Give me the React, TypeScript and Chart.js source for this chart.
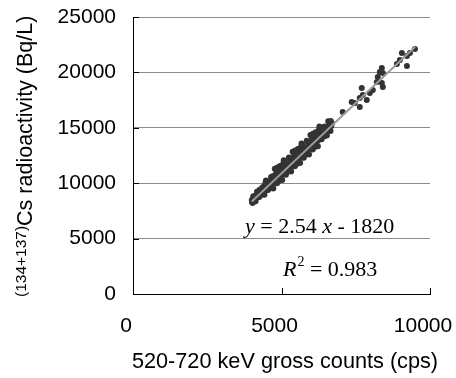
import React, { useEffect, useRef } from "react";
import { Chart, registerables } from "chart.js";

Chart.register(...registerables);

// Scatter data: 520-720 keV gross counts (cps) vs (134+137)Cs radioactivity (Bq/L)
// dense cluster (first pass)
const clusterAX: number[] = [
  4000, 4025, 4050, 4075, 4100, 4125, 4150, 4175, 4200, 4225, 4250, 4275, 4300, 4325, 4350, 4375,
  4400, 4425, 4450, 4475, 4500, 4525, 4550, 4575, 4600, 4625, 4650, 4675, 4700, 4725, 4750, 4775,
  4800, 4825, 4850, 4875, 4900, 4925, 4950, 4975, 5000, 5025, 5050, 5075, 5100, 5125, 5150, 5175,
  5200, 5225, 5250, 5275, 5300, 5325, 5350, 5375, 5400, 5425, 5450, 5475, 5500, 5525, 5550, 5575,
  5600, 5625, 5650, 5675, 5700, 5725, 5750, 5775, 5800, 5825, 5850, 5875, 5900, 5925, 5950, 5975,
  6000, 6025, 6050, 6075, 6100, 6125, 6150, 6175, 6200, 6225, 6250, 6275, 6300, 6325, 6350, 6375,
  6400, 6425, 6450, 6475, 6500, 6525, 6550, 6575, 6600, 6625, 6650, 6675, 6700,
];
const clusterAY: number[] = [
  8480, 8220, 8830, 8490, 8820, 8370, 8790, 9230, 8710, 9180, 8750, 9060, 9240, 8990, 9590, 9250,
  9710, 8960, 9590, 10250, 9400, 10090, 9390, 9840, 10070, 9650, 10550, 9980, 10620, 9530, 10400, 11310,
  10070, 11040, 10000, 10610, 10930, 10290, 11550, 10720, 11380, 10290, 11160, 12070, 10830, 11800, 10760, 11370,
  11690, 11050, 12320, 11480, 12140, 11060, 11920, 12830, 11600, 12560, 11520, 12140, 12450, 11810, 13080, 12240,
  12900, 11820, 12680, 13590, 12360, 13320, 12290, 12900, 13210, 12580, 13840, 13000, 13670, 12580, 13440, 14360,
  13120, 14080, 13050, 13660, 13970, 13340, 14600, 13760, 14430, 13340, 14210, 15120, 13970, 14670, 13960, 14410,
  14650, 14220, 15120, 14560, 15040, 14300, 14920, 15580, 14730, 15430, 14720, 15170, 15410,
];
// dense cluster (second pass)
const clusterBX: number[] = [
  4010, 4060, 4110, 4160, 4210, 4260, 4310, 4360, 4410, 4460, 4510, 4560, 4610, 4660, 4710, 4760,
  4810, 4860, 4910, 4960, 5010, 5060, 5110, 5160, 5210, 5260, 5310, 5360, 5410, 5460, 5510, 5560,
  5610, 5660, 5710, 5760, 5810, 5860, 5910, 5960, 6010, 6060, 6110, 6160, 6210, 6260, 6310, 6360,
  6410, 6460, 6510, 6560, 6610, 6660,
];
const clusterBY: number[] = [
  8280, 8780, 8370, 8930, 8870, 9410, 8930, 9370, 9280, 10030, 9390, 9830, 9750, 10470, 9590, 10670,
  10400, 11420, 10200, 11030, 10760, 11780, 10810, 11390, 11210, 12190, 11120, 12190, 11920, 12950, 11730, 12550,
  12280, 13310, 12330, 12910, 12740, 13710, 12640, 13720, 13450, 14470, 13250, 14080, 13800, 14830, 13960, 14400,
  14320, 15040, 14330, 15120, 14860, 15620,
];
// sparse upper points
const sparseX: number[] = [
  7060, 7364, 7466, 7635, 7635, 7702, 7736, 7871, 7973, 8074, 8209, 8243, 8311, 8378, 8378, 8412,
  8412, 8885, 8986, 9054, 9223, 9223, 9324, 9493,
];
const sparseY: number[] = [
  16426, 17328, 17238, 16877, 17689, 18592, 17960, 17509, 18140, 18411, 19133, 19584, 20036, 20397, 19043, 19945,
  18682, 20758, 21119, 21750, 21480, 20577, 21750, 22111,
];

// Regression line y = 2.54 x - 1820, endpoints
const trendX: number[] = [4000, 9500];
const trendY: number[] = [8340, 22310];

const equationText = ["y", " = 2.54 ", "x", " - 1820"];
const r2Value = " = 0.983";

const xTicks: number[] = [0, 5000, 10000];
const yTicks: number[] = [0, 5000, 10000, 15000, 20000, 25000];

const xTitle = "520-720 keV gross counts (cps)";
const yTitleSup = "(134+137)";
const yTitleMain = "Cs radioactivity (Bq/L)";

const SANS = '"Liberation Sans", Arial, sans-serif';
const SERIF = '"Liberation Serif", "Times New Roman", serif';

const overlayPlugin = {
  id: "overlay",
  afterDraw(chart: any) {
    const ctx: CanvasRenderingContext2D = chart.ctx;
    const { left, top, bottom } = chart.chartArea;
    const xs = chart.scales.x;
    const ys = chart.scales.y;
    ctx.save();
    // inner tick marks
    ctx.strokeStyle = "#000";
    ctx.lineWidth = 1;
    ctx.beginPath();
    yTicks.forEach((v) => {
      if (v === 0) return;
      const py = Math.round(ys.getPixelForValue(v)) + 0.5;
      ctx.moveTo(left, py);
      ctx.lineTo(left + 6, py);
    });
    xTicks.forEach((v) => {
      if (v === 0) return;
      const px = Math.round(xs.getPixelForValue(v)) + 0.5;
      ctx.moveTo(px, bottom);
      ctx.lineTo(px, bottom - 6);
    });
    ctx.stroke();

    // equation
    ctx.fillStyle = "#000";
    ctx.textAlign = "left";
    ctx.textBaseline = "alphabetic";
    let x = left + 112;
    const y1 = top + 216;
    equationText.forEach((seg, i) => {
      ctx.font = (i % 2 === 0 ? "italic " : "") + "22px " + SERIF;
      ctx.fillText(seg, x, y1);
      x += ctx.measureText(seg).width;
    });
    x = left + 150;
    const y2 = top + 259;
    ctx.font = "italic 22px " + SERIF;
    ctx.fillText("R", x, y2);
    x += ctx.measureText("R").width + 1;
    ctx.font = "14px " + SERIF;
    ctx.fillText("2", x, y2 - 10);
    x += ctx.measureText("2").width;
    ctx.font = "22px " + SERIF;
    ctx.fillText(r2Value, x, y2);

    // y axis title
    ctx.save();
    ctx.translate(32, 297);
    ctx.rotate(-Math.PI / 2);
    ctx.font = "15.5px " + SANS;
    ctx.fillText(yTitleSup, 0, -6);
    const w = ctx.measureText(yTitleSup).width;
    ctx.font = "21.5px " + SANS;
    ctx.fillText(yTitleMain, w, 0);
    ctx.restore();

    // x axis title
    ctx.font = "21.7px " + SANS;
    ctx.textAlign = "center";
    ctx.fillText(xTitle, 285, 368);
    ctx.restore();
  },
};

export default function App() {
  const canvasRef = useRef<HTMLCanvasElement | null>(null);

  useEffect(() => {
    const canvas = canvasRef.current;
    if (!canvas) return;
    const allX = [...clusterAX, ...clusterBX, ...sparseX];
    const allY = [...clusterAY, ...clusterBY, ...sparseY];
    const points = allX.map((v, i) => ({ x: v, y: allY[i] }));
    const trend = trendX.map((v, i) => ({ x: v, y: trendY[i] }));
    const chart = new Chart(canvas, {
      type: "scatter",
      data: {
        datasets: [
          {
            type: "line",
            data: trend,
            borderColor: "#9a9a9a",
            borderWidth: 2,
            pointRadius: 0,
            fill: false,
            order: 0,
          } as any,
          {
            data: points,
            backgroundColor: "#333333",
            borderWidth: 0,
            pointRadius: 3,
            order: 1,
          },
        ],
      },
      options: {
        responsive: false,
        devicePixelRatio: 1,
        animation: false,
        layout: { padding: { left: 0, top: 17, right: 26, bottom: 0 } },
        plugins: { legend: { display: false }, tooltip: { enabled: false } },
        scales: {
          x: {
            type: "linear",
            min: 0,
            max: 10000,
            afterBuildTicks: (scale: any) => {
              scale.ticks = xTicks.map((v) => ({ value: v }));
            },
            afterFit: (scale: any) => {
              scale.height = 84;
              scale.paddingLeft = 0;
              scale.paddingRight = 0;
            },
            ticks: {
              font: { family: SANS, size: 21 },
              color: "#000",
              padding: 20,
              maxRotation: 0,
              labelOffset: -7,
              callback: (v: any) => String(v),
            },
            grid: { drawOnChartArea: false, drawTicks: false },
            border: { color: "#000", width: 1 },
          },
          y: {
            type: "linear",
            min: 0,
            max: 25000,
            afterBuildTicks: (scale: any) => {
              scale.ticks = yTicks.map((v) => ({ value: v }));
            },
            afterFit: (scale: any) => {
              scale.width = 133;
              scale.paddingTop = 0;
              scale.paddingBottom = 0;
            },
            ticks: {
              font: { family: SANS, size: 21 },
              color: "#000",
              padding: 17,
              callback: (v: any) => String(v),
            },
            grid: { color: "#8c8c8c", drawTicks: false, lineWidth: 1 },
            border: { color: "#000", width: 1 },
          },
        },
      },
      plugins: [overlayPlugin],
    });
    return () => chart.destroy();
  }, []);

  return (
    <div style={{ position: "absolute", left: 0, top: 0, width: 456, height: 378, background: "#fff" }}>
      <canvas ref={canvasRef} width={456} height={378} style={{ display: "block" }} />
    </div>
  );
}
